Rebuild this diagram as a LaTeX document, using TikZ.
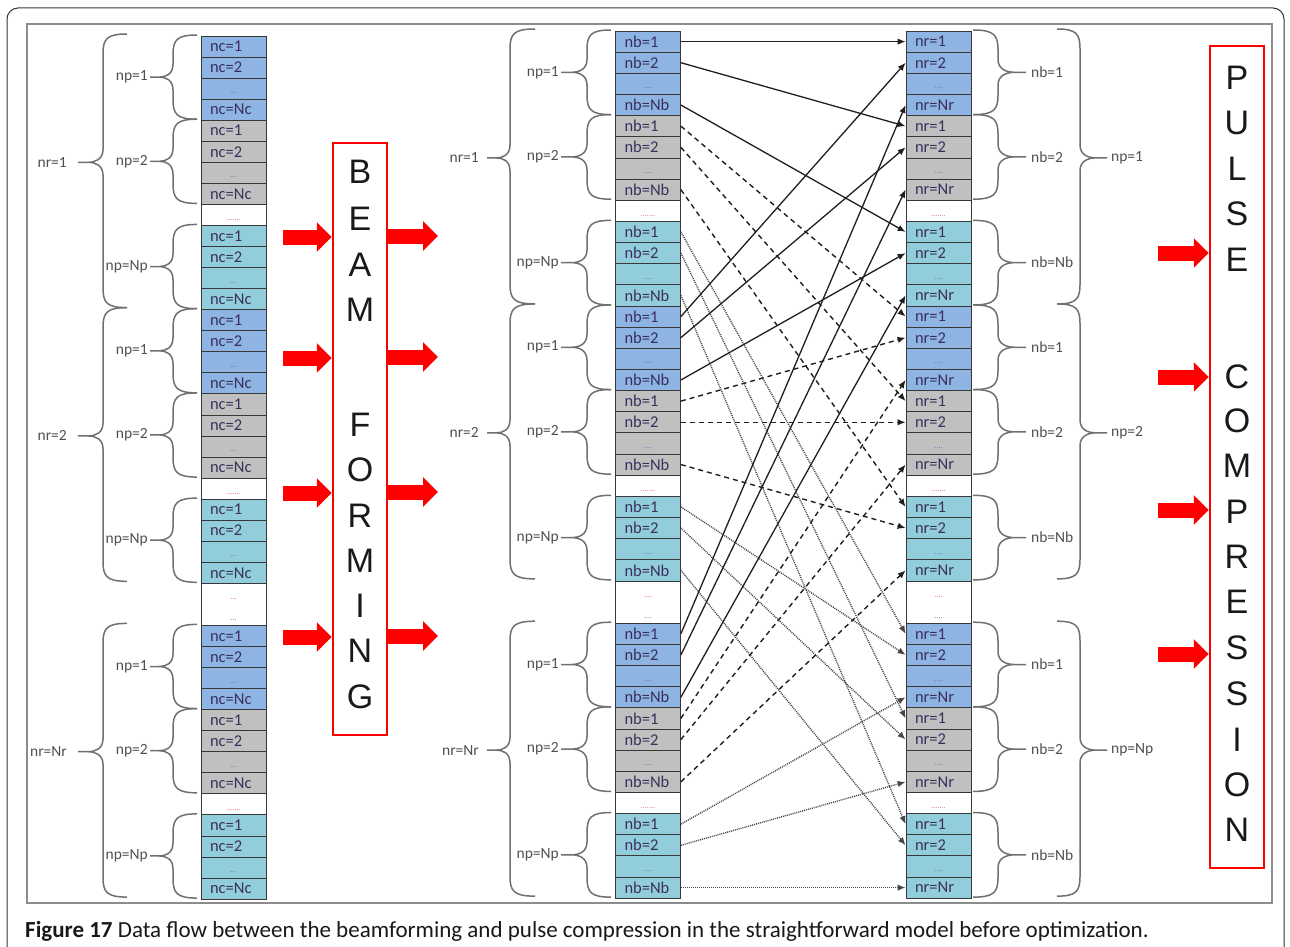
\documentclass[tikz,border=0pt]{standalone}
\usepackage{fontspec}
\setmainfont{Carlito}
\newfontfamily\arialf{Liberation Sans}
\usetikzlibrary{arrows.meta,calc}
\definecolor{cblue}{RGB}{141,180,226}
\definecolor{cgray}{RGB}{192,192,192}
\definecolor{ccyan}{RGB}{146,205,220}
\definecolor{ctext}{RGB}{58,48,92}
\definecolor{bracegray}{RGB}{112,112,112}
\definecolor{labgray}{RGB}{80,80,80}
\definecolor{dotpurple}{RGB}{110,110,190}
\definecolor{dotred}{RGB}{230,100,120}
\definecolor{framegray}{RGB}{140,140,140}
\newcommand\celldots[1]{\makebox[47pt][c]{\raisebox{-5pt}[0pt][0pt]{\color{dotpurple}\fontsize{8}{8}\selectfont #1}}}
\newcommand\sepdots{\makebox[47pt][c]{\raisebox{-6pt}[0pt][0pt]{\color{dotred}\fontsize{8}{8}\selectfont .......}}}
\newcommand\CellText[3]{\if#1a\relax n#2=1\fi\if#1b\relax n#2=2\fi\if#1n\relax n#2=N#2\fi\if#1d\relax\celldots{#3}\fi\if#1s\relax\sepdots\fi}
% #1 prefix, #2 x centre, #3 top, #4 cell height, #5 variable letter, #6 dots
\newcommand\MakeCol[6]{%
  \foreach \base in {0,13,28}{%
    \foreach \k/\fc/\kind in {0/cblue/a,1/cblue/b,2/cblue/d,3/cblue/n,4/cgray/a,5/cgray/b,6/cgray/d,7/cgray/n,8/white/s,9/ccyan/a,10/ccyan/b,11/ccyan/d,12/ccyan/n}{%
      \pgfmathtruncatemacro\r{\base+\k}%
      \pgfmathsetmacro\yc{#3+(\r+0.5)*#4}%
      \node[cell,fill=\fc,minimum height=#4pt] (#1\r) at (#2,\yc) {\CellText{\kind}{#5}{#6}};
    }%
  }%
  \pgfmathsetmacro\yc{#3+27*#4}%
  \node[cell,fill=white,minimum height=2*#4pt] (#1gap) at (#2,\yc) {};
  \node[font=\fontsize{8}{8}\selectfont,text=dotred,inner sep=0pt] (#1gapa) at (#2,{#3+26.75*#4}) {#6};
  \node[font=\fontsize{8}{8}\selectfont,text=dotpurple,inner sep=0pt] (#1gapb) at (#2,{#3+27.75*#4}) {#6};
}
% brace: #1 end x, #2 spine x, #3 tip x, #4 top y, #5 tip y, #6 bottom y
\newcommand\Brace[6]{%
  \draw[bracestyle] (#1,#4) .. controls ({#2+0.15*(#1-#2)},#4) and (#2,#4+5) .. (#2,#4+20) -- (#2,#5-13)
    .. controls (#2,#5-3) and ({#2+0.3*(#3-#2)},#5) .. ({#3+0.4*(#2-#3)},#5) -- (#3,#5) -- ({#3+0.4*(#2-#3)},#5)
    .. controls ({#2+0.3*(#3-#2)},#5) and (#2,#5+3) .. (#2,#5+13) -- (#2,#6-20) .. controls (#2,#6-5) and ({#2+0.15*(#1-#2)},#6) .. (#1,#6);
}
\begin{document}
\begin{tikzpicture}[x=1pt,y=-1pt,
  cell/.style={draw=black!78,line width=0.8pt,minimum width=65pt,text width=47pt,inner xsep=9pt,inner ysep=0pt,align=left,font=\fontsize{16.5}{16.5}\selectfont,text=ctext},
  bracestyle/.style={draw=bracegray,line width=1.5pt},
  blabel/.style={inner sep=0pt,font=\fontsize{15.5}{15.5}\selectfont,text=labgray},
  tipstyle/.style={-{Latex[length=8pt,width=6.5pt]}},
  solidarr/.style={tipstyle,draw=black!88,line width=1.3pt},
  dasharr/.style={tipstyle,draw=black!88,line width=1.4pt,dash pattern=on 5pt off 4pt},
  dotarr/.style={tipstyle,draw=black!72,line width=1.4pt,dash pattern=on 1pt off 1pt},
  redbox/.style={draw=red,line width=2.5pt,fill=white},
  bigletter/.style={font=\arialf\fontsize{34}{34}\selectfont,text=black!90,inner sep=0pt},
  redarr/.style={draw=red,line width=15pt,-{Triangle[length=15pt,width=29pt]}}
]
\useasboundingbox (0,0) rectangle (1290,947);
\fill[white] (0,0) rectangle (1290,947);
% frames
\draw[black!80,line width=1pt,rounded corners=11pt] (7,990) -- (7,8) -- (1284,8) -- (1284,990);
\draw[framegray,line width=2.5pt] (27,24) rectangle (1272,903);

% columns
\MakeCol{L}{233.5}{36}{21.05}{c}{...}
\MakeCol{M}{648}{31}{21.15}{b}{....}
\MakeCol{R}{938.5}{31}{21.15}{r}{....}

% left braces
\foreach \B/\nl in {0/1,13/2,28/Nr}{
  \pgfmathsetmacro\yt{36+21.05*\B-2}
  \pgfmathsetmacro\yb{36+21.05*(\B+13)-2}
  \pgfmathsetmacro\ym{36+21.05*(\B+6)}
  \Brace{127}{103}{78}{\yt}{\ym}{\yb}
  \node[blabel,anchor=east] (Lnr\B) at (67,\ym) {nr=\nl};
  \foreach \S/\pl in {0/1,4/2,9/Np}{
    \pgfmathsetmacro\yt{36+21.05*(\B+\S)-1}
    \pgfmathsetmacro\yb{36+21.05*(\B+\S+4)-1}
    \pgfmathsetmacro\ym{36+21.05*(\B+\S+2)-1}
    \Brace{197}{173}{150}{\yt}{\ym}{\yb}
    \node[blabel,anchor=east] (Lnp\B-\S) at (148,\ym) {np=\pl};
  }
}
% middle braces
\foreach \B/\nl in {0/1,13/2,28/Nr}{
  \pgfmathsetmacro\yt{31+21.15*\B-2}
  \pgfmathsetmacro\yb{31+21.15*(\B+13)-2}
  \pgfmathsetmacro\ym{31+21.15*(\B+6)}
  \Brace{535}{510}{487}{\yt}{\ym}{\yb}
  \node[blabel,anchor=east] (Mnr\B) at (479,\ym) {nr=\nl};
  \foreach \S/\pl in {0/1,4/2,9/Np}{
    \pgfmathsetmacro\yt{31+21.15*(\B+\S)-1}
    \pgfmathsetmacro\yb{31+21.15*(\B+\S+4)-1}
    \pgfmathsetmacro\ym{31+21.15*(\B+\S+2)-1}
    \Brace{611}{587}{561}{\yt}{\ym}{\yb}
    \node[blabel,anchor=east] (Mnp\B-\S) at (559,\ym) {np=\pl};
  }
}
% right braces
\foreach \B/\nl in {0/1,13/2,28/Np}{
  \pgfmathsetmacro\yt{31+21.15*\B-2}
  \pgfmathsetmacro\yb{31+21.15*(\B+13)-2}
  \pgfmathsetmacro\ym{31+21.15*(\B+6)}
  \Brace{1057}{1080}{1107}{\yt}{\ym}{\yb}
  \node[blabel,anchor=west] (Rnp\B) at (1111,\ym) {np=\nl};
  \foreach \S/\pl in {0/1,4/2,9/Nb}{
    \pgfmathsetmacro\yt{31+21.15*(\B+\S)-1}
    \pgfmathsetmacro\yb{31+21.15*(\B+\S+4)-1}
    \pgfmathsetmacro\ym{31+21.15*(\B+\S+2)-1}
    \Brace{973}{998}{1026}{\yt}{\ym}{\yb}
    \node[blabel,anchor=west] (Rnb\B-\S) at (1031,\ym) {nb=\pl};
  }
}

% connectors middle -> right
\foreach \Bg/\Og in {0/0,13/1,28/3}{
  \foreach \Sb/\Ob in {0/0,4/1,9/3}{
    \pgfmathtruncatemacro\m{\Bg+0+\Ob}\pgfmathtruncatemacro\n{0+\Sb+\Og}
    \draw[solidarr] (M\m.east) -- (R\n.west);
    \pgfmathtruncatemacro\m{\Bg+4+\Ob}\pgfmathtruncatemacro\n{13+\Sb+\Og}
    \draw[dasharr] (M\m.east) -- (R\n.west);
    \pgfmathtruncatemacro\m{\Bg+9+\Ob}\pgfmathtruncatemacro\n{28+\Sb+\Og}
    \draw[dotarr] (M\m.east) -- (R\n.west);
  }
}

% boxes
\node[redbox,minimum width=54pt,minimum height=592pt] (BF) at (360,439) {};
\node[redbox,minimum width=54pt,minimum height=822pt] (PC) at (1237,457) {};
\foreach \L/\y [count=\n] in {B/172,E/219,A/265,M/310,F/425,O/470,R/516,M/561,I/606,N/651,G/697}
  \node[bigletter] (bf\n) at (360,\y) {\L};
\foreach \L/\y [count=\n] in {P/78,U/123,L/169,S/214,E/260,C/377,O/421,M/466,P/512,R/557,E/602,S/648,S/694,I/740,O/785,N/830}
  \node[bigletter] (pc\n) at (1237,\y) {\L};

% red arrows
\foreach \y [count=\n] in {237,358,493,637}{
  \coordinate (la\n) at (283,\y);
  \draw[redarr] (la\n) -- (la\n -| BF.west);
}
\foreach \y [count=\n] in {236,357,492,636}{
  \coordinate (ra\n) at (438,\y);
  \draw[redarr] (ra\n -| BF.east) -- (ra\n);
}
\foreach \y [count=\n] in {253,377,510,654}{
  \coordinate (pa\n) at (1158,\y);
  \draw[redarr] (pa\n) -- (pa\n -| PC.west);
}

% caption
\node[anchor=west,inner sep=0pt,font=\fontsize{23}{23}\selectfont,text=black!90] (cap) at (25,931)
  {\textbf{Figure 17} Data flow between the beamforming and pulse compression in the straightforward model before optimization.};
\end{tikzpicture}
\end{document}
